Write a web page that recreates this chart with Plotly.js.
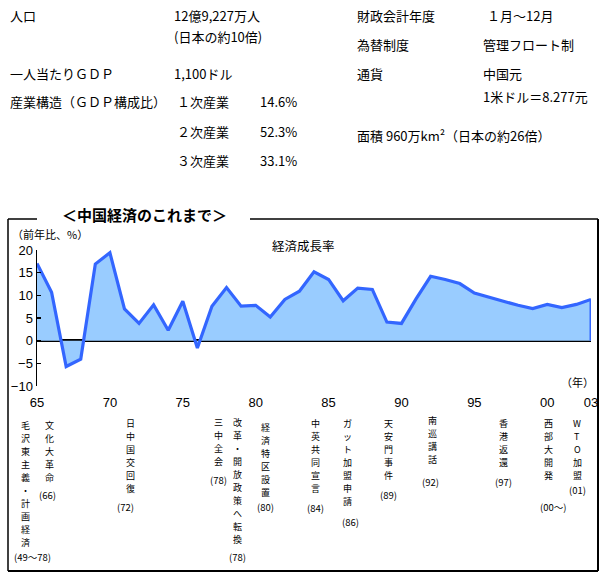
<!DOCTYPE html>
<html>
<head>
<meta charset="utf-8">
<script src="https://cdn.plot.ly/plotly-3.0.1.min.js"></script>
<style>
html,body{margin:0;padding:0;background:#fff;}
#chart{width:610px;height:578px;}
</style>
</head>
<body>
<div id="chart"></div>
<script>
// ---- data ----
var years = [1965,1966,1967,1968,1969,1970,1971,1972,1973,1974,1975,1976,1977,1978,1979,1980,1981,1982,1983,1984,1985,1986,1987,1988,1989,1990,1991,1992,1993,1994,1995,1996,1997,1998,1999,2000,2001,2002,2003];
var growth = [17.0,10.7,-5.7,-4.1,16.9,19.4,7.0,3.8,7.9,2.3,8.7,-1.6,7.6,11.7,7.6,7.8,5.2,9.1,10.9,15.2,13.5,8.8,11.6,11.3,4.1,3.8,9.2,14.2,13.5,12.6,10.5,9.6,8.8,7.8,7.1,8.0,7.3,8.0,9.1];
var xTickVals = [1965,1970,1975,1980,1985,1990,1995,2000,2003];
var xTickText = ['65','70','75','80','85','90','95','00','03'];
var yTickVals = [-10,-5,0,5,10,15,20];

var eventLabels = ['毛沢東主義・計画経済','文化大革命','日中国交回復','三中全会','改革・開放政策へ転換','経済特区設置','中英共同宣言','ガット加盟申請','天安門事件','南巡講話','香港返還','西部大開発','WTO加盟'];
var eventYears = ['(49～78)','(66)','(72)','(78)','(78)','(80)','(84)','(86)','(89)','(92)','(97)','(00～)','(01)'];

var infoLeft = [
  ['人口', '12億9,227万人'],
  ['', '(日本の約10倍)'],
  ['一人当たりＧＤＰ', '1,100ドル'],
  ['産業構造（ＧＤＰ構成比）', '１次産業'],
  ['', '２次産業'],
  ['', '３次産業']
];
var industryShares = ['14.6%','52.3%','33.1%'];
var infoRight = [
  ['財政会計年度', '１月～12月'],
  ['為替制度', '管理フロート制'],
  ['通貨', '中国元'],
  ['', '1米ドル＝8.277元'],
  ['面積 960万km²（日本の約26倍）', '']
];

// ---- layout helpers (pixel -> paper) ----
var L = 37, R = 19, T = 250, B = 192, FW = 610, FH = 578;
var PW = FW - L - R, PH = FH - T - B;
function xp(px){ return (px - L) / PW; }
function yp(py){ return (FH - B - py) / PH; }

var jp = '"Noto Sans CJK JP", "Noto Sans", sans-serif';
var ann = [];
function addText(text, px, py, size, xanchor){
  ann.push({text: text, x: xp(px), y: yp(py), xref: 'paper', yref: 'paper',
    xanchor: xanchor || 'left', yanchor: 'middle', showarrow: false,
    font: {family: jp, size: size, color: '#000'}});
}

// top info
var leftRowsY = [15, 37, 73, 102, 131, 160];
infoLeft.forEach(function(r, i){
  if (r[0]) addText(r[0], 8, leftRowsY[i], 13);
  if (r[1]) addText(r[1], i >= 3 ? 175 : 172, leftRowsY[i], 13);
});
industryShares.forEach(function(s, i){ addText(s, 258, leftRowsY[3 + i], 13); });
var rightRowsY = [15, 44, 73, 96, 135];
infoRight.forEach(function(r, i){
  if (r[0]) addText(r[0], 355, rightRowsY[i], 13);
  if (r[1]) addText(r[1], i === 0 ? 485 : 481, rightRowsY[i], 13);
});

// chart titles
addText('<b>＜中国経済のこれまで＞</b>', 144, 214, 15, 'center');
addText('経済成長率', 303, 245, 12.5, 'center');
addText('（前年比、%）', 10, 234, 11, 'left');
addText('（年）', 577, 382, 11, 'center');

// vertical event labels (one character per annotation)
var evX = [25,49,130,218,237,265,315,347,388,432,503,548,577];
var evTop = [425,425,423,422,422,427,423,423,423,420,423,423,423];
var pX = [32,47,125,218,237,265,315,350,388,430,503,553,577];
var pY = [557,495,507,480,557,507,508,522,495,482,482,507,490];
var lineH = 13.1;
eventLabels.forEach(function(lbl, i){
  Array.from(lbl).forEach(function(ch, k){
    addText(ch, evX[i], evTop[i] + k * lineH, 9, 'center');
  });
  addText(eventYears[i], pX[i], pY[i], 9.5, 'center');
});

var stroke = {color: '#000', width: 1.5};
var shapes = [
  {type:'line', xref:'paper', yref:'paper', x0: xp(8), x1: xp(37), y0: yp(219), y1: yp(219), line: stroke},
  {type:'line', xref:'paper', yref:'paper', x0: xp(250), x1: xp(598), y0: yp(219), y1: yp(219), line: stroke},
  {type:'line', xref:'paper', yref:'paper', x0: xp(8), x1: xp(8), y0: yp(219), y1: yp(571), line: stroke},
  {type:'line', xref:'paper', yref:'paper', x0: xp(598), x1: xp(598), y0: yp(219), y1: yp(571), line: {color:'#000', width: 2}},
  {type:'line', xref:'paper', yref:'paper', x0: xp(8), x1: xp(598), y0: yp(571), y1: yp(571), line: {color:'#000', width: 2}},
  {type:'line', xref:'x', yref:'y', x0: years[years.length-1], x1: years[years.length-1], y0: 0, y1: growth[growth.length-1], line: {color:'#3366FF', width: 3}}
];

var trace = {
  x: years, y: growth, type: 'scatter', mode: 'lines',
  fill: 'tozeroy', fillcolor: '#99CCFF',
  line: {color: '#3366FF', width: 3.2},
  hoverinfo: 'skip'
};

var layout = {
  width: FW, height: FH,
  margin: {l: L, r: R, t: T, b: B, pad: 0},
  paper_bgcolor: '#fff', plot_bgcolor: '#fff',
  showlegend: false,
  xaxis: {range: [1965, 2003], tickvals: xTickVals, ticktext: xTickText,
    showgrid: false, zeroline: false, showline: false, ticks: '',
    ticklabelstandoff: 7,
    tickfont: {family: '"Liberation Sans", Arial, sans-serif', size: 13, color: '#000'}},
  yaxis: {range: [-10, 20], tickvals: yTickVals, showgrid: false,
    zeroline: true, zerolinecolor: '#000', zerolinewidth: 2.5,
    showline: true, linecolor: '#000', linewidth: 1.5,
    ticks: 'inside', ticklen: 4, tickcolor: '#000', tickwidth: 1.5,
    layer: 'above traces',
    tickfont: {family: '"Liberation Sans", Arial, sans-serif', size: 13, color: '#000'}},
  annotations: ann,
  shapes: shapes
};

Plotly.newPlot('chart', [trace], layout, {displayModeBar: false, staticPlot: true});
</script>
</body>
</html>
